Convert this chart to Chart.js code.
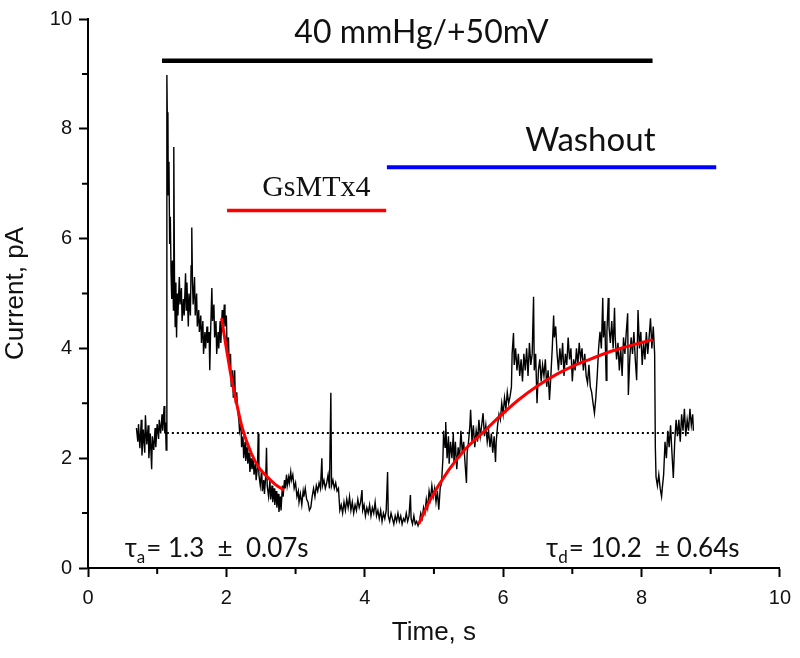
<!DOCTYPE html>
<html lang="en">
<head>
  <meta charset="UTF-8">
  <title>Current trace – GsMTx4 washout</title>
  <script src="https://cdn.jsdelivr.net/npm/chart.js"></script>
  <style>
    html, body { margin: 0; padding: 0; background: #fff; }
    #wrap { width: 800px; height: 658px; }
  </style>
</head>
<body>
  <div id="wrap"><canvas id="chart" width="800" height="658"></canvas></div>
  <script>
    // recorded current trace, [time s, current pA]
    const trace = [
      [0.70,2.55],[0.72,2.30],[0.73,2.62],[0.75,2.18],[0.77,2.70],[0.78,2.05],[0.80,2.52],[0.82,2.10],[0.83,2.78],[0.85,2.25],
      [0.87,2.60],[0.88,2.00],[0.90,2.45],[0.92,1.80],[0.93,2.40],[0.95,2.15],[0.97,2.55],[0.98,2.20],[1.00,2.62],[1.02,2.35],
      [1.03,2.70],[1.05,2.45],[1.07,2.80],[1.08,2.50],[1.10,2.95],[1.11,2.45],[1.12,2.65],[1.13,2.15],
      [1.14,8.98],[1.15,7.75],[1.155,8.30],[1.16,6.80],[1.17,7.40],[1.18,5.90],[1.19,6.40],[1.20,5.40],[1.21,4.90],[1.22,5.60],
      [1.235,4.70],[1.24,7.67],[1.25,5.30],[1.26,4.40],[1.27,5.20],[1.28,4.20],
      [1.29,5.00],[1.30,4.60],[1.32,5.30],[1.33,4.80],[1.35,5.10],[1.36,4.50],[1.38,4.90],[1.39,4.60],[1.41,5.37],[1.42,4.70],
      [1.43,5.20],[1.45,4.40],[1.46,5.00],[1.48,4.60],[1.49,5.50],[1.50,6.20],[1.51,5.20],[1.52,4.80],[1.54,5.30],[1.55,4.60],
      [1.57,5.00],[1.58,4.40],
      [1.60,4.70],[1.61,4.30],[1.63,4.60],[1.64,4.10],[1.66,4.50],[1.67,3.90],[1.69,4.30],[1.70,4.00],[1.72,4.40],[1.73,4.10],
      [1.75,4.30],[1.76,3.60],[1.77,4.20],[1.79,5.10],[1.80,4.50],[1.82,4.80],[1.83,4.20],[1.85,4.50],[1.86,3.90],[1.88,4.30],
      [1.89,4.00],[1.91,4.50],[1.92,4.10],[1.94,4.70],[1.95,4.30],[1.97,4.80],
      [1.98,4.40],[2.00,4.60],[2.01,4.00],[2.03,4.20],[2.04,3.70],[2.06,3.90],[2.07,3.30],[2.09,3.60],[2.10,3.10],[2.12,3.60],
      [2.13,3.00],[2.15,3.20],[2.16,2.90],[2.18,2.70],[2.19,2.50],[2.21,2.65],[2.22,2.20],[2.24,2.40],[2.25,2.00],[2.27,2.30],
      [2.28,1.95],[2.30,2.20],[2.31,1.90],[2.33,2.10],[2.34,1.75],[2.36,2.00],[2.37,1.80],[2.39,1.95],[2.40,1.70],[2.42,1.90],
      [2.43,1.60],[2.45,1.85],[2.46,2.45],[2.47,1.70],[2.49,1.50],[2.51,1.80],[2.52,1.40],[2.54,1.60],[2.55,1.35],[2.57,1.70],
      [2.58,2.19],[2.59,1.50],[2.61,1.30],[2.63,1.60],[2.64,1.25],[2.66,1.50],[2.67,1.20],[2.69,1.45],[2.70,1.15],[2.72,1.40],
      [2.73,1.10],[2.75,1.35],[2.76,1.02],[2.78,1.30],[2.79,1.05],[2.81,1.50],[2.82,1.30],
      [2.84,1.60],[2.85,1.45],[2.87,1.70],[2.88,1.50],[2.90,1.65],[2.91,1.55],[2.93,1.75],[2.94,1.60],[2.96,1.70],
      [2.98,1.45],[3.00,1.55],[3.02,1.30],[3.04,1.40],[3.05,1.20],[3.07,1.35],[3.09,1.15],[3.11,1.40],[3.12,1.30],[3.14,1.45],
      [3.16,1.25],[3.18,1.20],[3.20,1.05],[3.22,1.10],
      [3.24,1.30],[3.26,1.45],[3.28,1.30],[3.30,1.50],[3.32,1.40],[3.34,1.55],[3.36,1.45],[3.38,2.00],[3.39,1.50],[3.41,1.60],
      [3.43,1.45],[3.45,1.55],[3.47,1.70],[3.49,1.45],[3.51,3.19],[3.52,1.50],[3.54,1.60],[3.56,1.45],[3.58,1.55],[3.60,1.40],
      [3.62,1.45],
      [3.64,1.05],[3.66,1.15],[3.68,1.00],[3.70,1.20],[3.72,1.05],[3.74,1.25],[3.76,1.10],[3.78,1.30],[3.80,1.05],[3.82,1.20],
      [3.84,1.00],[3.86,1.15],[3.88,1.05],[3.90,1.25],[3.92,1.10],[3.94,1.20],[3.96,1.42],[3.97,1.05],[3.99,1.15],[4.01,0.95],
      [4.03,1.10],[4.05,1.00],[4.07,1.15],[4.09,0.95],[4.11,1.10],[4.13,1.00],[4.15,1.20],[4.17,0.95],[4.19,1.05],
      [4.21,0.90],[4.23,1.05],[4.25,0.85],[4.27,1.00],[4.29,0.90],[4.31,1.05],[4.33,1.75],[4.34,0.95],[4.36,0.85],[4.38,1.00],
      [4.40,0.90],[4.42,0.80],[4.44,0.95],[4.46,0.85],[4.48,1.00],[4.50,0.85],[4.52,0.95],[4.54,0.80],[4.56,0.90],[4.58,0.85],
      [4.60,1.00],[4.62,0.85],[4.64,0.95],[4.66,1.33],[4.67,0.90],[4.69,0.80],[4.71,0.95],[4.73,0.80],[4.75,0.85],[4.77,0.77],
      [4.79,0.85],[4.81,1.00],[4.83,0.90],[4.85,1.10],[4.87,1.00],[4.89,1.25],[4.91,1.10],
      [4.93,1.40],[4.95,1.25],[4.97,1.50],[4.99,1.30],[5.01,1.45],[5.03,1.20],[5.05,1.40],[5.07,1.06],[5.09,1.45],[5.11,1.55],
      [5.13,2.00],[5.14,2.50],[5.16,2.20],[5.17,2.66],[5.19,2.00],[5.21,2.40],[5.22,1.90],[5.24,2.30],
      [5.26,2.00],[5.28,2.45],[5.29,1.90],[5.31,2.30],[5.33,1.80],[5.35,2.20],[5.37,2.00],[5.39,2.50],[5.41,2.10],[5.43,2.30],
      [5.45,1.90],[5.47,1.55],[5.48,2.10],
      [5.50,2.30],[5.52,2.60],[5.53,2.88],[5.55,2.30],[5.57,2.60],[5.59,2.20],[5.61,2.50],[5.63,2.30],[5.65,2.70],[5.67,2.40],
      [5.69,2.60],[5.71,2.82],[5.73,2.40],
      [5.75,2.60],[5.77,2.30],[5.79,2.50],[5.81,2.20],[5.83,2.45],[5.85,2.10],[5.87,2.40],[5.89,1.93],[5.90,2.30],[5.92,2.60],
      [5.94,2.80],[5.96,2.70],[5.98,3.00],[6.00,2.80],[6.02,3.10],[6.04,2.90],[6.06,3.20],[6.08,3.00],[6.10,3.12],[6.12,3.30],
      [6.13,3.90],[6.15,4.28],[6.16,3.70],[6.18,4.00],[6.20,3.60],[6.22,3.90],
      [6.24,3.50],[6.26,3.80],[6.28,3.40],[6.30,3.90],[6.32,3.60],[6.34,4.00],[6.36,3.50],[6.38,4.10],[6.40,3.70],[6.42,3.90],
      [6.44,4.94],
      [6.45,3.60],[6.47,3.90],[6.49,3.00],[6.51,3.60],[6.53,3.80],[6.55,3.40],[6.57,3.70],[6.59,3.50],[6.61,3.80],[6.63,3.30],
      [6.65,3.60],[6.67,3.06],[6.69,3.50],
      [6.71,4.00],[6.73,4.60],[6.74,4.20],[6.76,4.40],[6.78,3.90],
      [6.80,3.60],[6.82,4.00],[6.84,3.70],[6.86,4.10],[6.88,3.50],[6.90,3.90],[6.92,3.70],[6.94,4.20],[6.96,3.80],[6.98,4.00],
      [7.00,3.40],[7.02,3.80],[7.04,3.60],[7.06,4.00],[7.08,3.70],[7.10,4.10],[7.12,3.80],[7.14,4.00],[7.16,3.60],[7.18,3.90],
      [7.20,3.50],[7.22,3.37],[7.24,3.70],[7.26,3.30],
      [7.28,3.20],[7.30,3.00],[7.32,2.82],[7.34,3.10],[7.36,3.50],
      [7.38,4.00],[7.40,4.30],[7.42,4.00],[7.44,4.92],[7.45,4.20],[7.47,4.50],[7.49,3.42],[7.50,4.30],[7.52,4.92],[7.53,4.40],
      [7.55,4.10],[7.57,4.50],[7.59,4.00],[7.61,4.74],[7.62,4.20],[7.64,3.80],
      [7.66,4.10],[7.68,3.60],[7.70,4.00],[7.72,3.50],[7.74,4.20],[7.76,3.90],[7.78,4.30],[7.80,4.64],[7.81,3.15],[7.83,3.80],
      [7.85,4.20],[7.87,3.90],[7.89,4.30],
      [7.91,3.80],[7.93,3.42],[7.95,4.70],[7.97,4.00],[7.99,4.30],[8.01,3.70],[8.03,4.10],[8.05,3.80],[8.07,4.30],[8.09,3.90],
      [8.11,4.20],[8.13,4.55],[8.15,4.00],[8.17,4.40],[8.19,3.90],
      [8.20,2.20],[8.21,1.66],[8.23,1.50],[8.25,1.70],[8.27,1.45],[8.29,1.30],[8.30,1.45],[8.32,1.70],
      [8.34,2.30],[8.36,2.00],[8.38,2.50],[8.40,2.20],[8.42,2.60],[8.44,2.10],[8.46,1.64],[8.48,2.30],[8.50,2.70],[8.52,2.40],
      [8.54,2.70],[8.56,2.30],[8.58,2.80],[8.60,2.50],[8.62,2.90],[8.64,2.40],[8.66,2.70],[8.68,2.50],[8.70,2.90],[8.72,2.60],
      [8.74,2.80],[8.75,2.50]
    ];

    // exponential fits
    const decayFit = [[1.93,4.55],[2.00,4.00],[2.07,3.48],[2.16,2.93],[2.23,2.55],[2.36,2.09],[2.47,1.83],[2.59,1.66],[2.71,1.52],[2.83,1.42]];
    const riseFit = [[4.78,0.80],[4.95,1.25],[5.21,1.78],[5.45,2.16],[5.71,2.47],[5.95,2.76],[6.22,3.06],[6.50,3.32],[6.79,3.54],
                     [7.05,3.70],[7.27,3.81],[7.52,3.93],[7.75,4.02],[7.95,4.09],[8.16,4.16]];
    const baseline = [[1.14,2.46],[8.72,2.46]];

    // protocol bars
    const pressureBar = [[1.07,9.24],[8.16,9.24]];
    const toxinBar = [[2.01,6.51],[4.31,6.51]];
    const washoutBar = [[4.32,7.30],[9.08,7.30]];

    const xTicks = [0, 2, 4, 6, 8, 10];
    const yTicks = [0, 2, 4, 6, 8, 10];

    const pts = arr => arr.map(([x, y]) => ({ x, y }));

    const labels = [
      { text: '40 mmHg/+50mV', x: 4.82, y: 9.56, font: '32px Lato' },
      { text: 'Washout', x: 7.26, y: 7.60, font: '33px Lato' },
      { text: 'GsMTx4', x: 3.30, y: 6.78, font: '30px "Liberation Serif"' }
    ];
    const taus = [
      { sub: 'a', rest: '= 1.3  \u00b1  0.07s', x: 0.53, y: 0.20 },
      { sub: 'd', rest: '= 10.2  \u00b1 0.64s', x: 6.62, y: 0.20 }
    ];

    const textPlugin = {
      id: 'texts',
      afterDatasetsDraw(chart) {
        const { ctx, scales: { x, y } } = chart;
        ctx.save();
        ctx.fillStyle = '#111';
        ctx.textBaseline = 'alphabetic';
        labels.forEach(l => {
          ctx.font = l.font;
          ctx.textAlign = 'center';
          ctx.fillText(l.text, x.getPixelForValue(l.x), y.getPixelForValue(l.y));
        });
        ctx.textAlign = 'left';
        taus.forEach(t => {
          let px = x.getPixelForValue(t.x);
          const py = y.getPixelForValue(t.y);
          ctx.font = '26px Lato';
          ctx.fillText('\u03c4', px, py);
          px += ctx.measureText('\u03c4').width;
          ctx.font = '17px Lato';
          ctx.fillText(t.sub, px, py + 6);
          px += ctx.measureText(t.sub).width + 1;
          ctx.font = '26px Lato';
          ctx.fillText(t.rest, px, py);
        });
        ctx.restore();
      }
    };

    // short minor ticks on odd values
    const minorTicks = {
      id: 'minorTicks',
      afterDraw(chart) {
        const { ctx, scales: { x, y }, chartArea: a } = chart;
        ctx.save();
        ctx.strokeStyle = '#000';
        ctx.lineWidth = 2;
        ctx.beginPath();
        for (let v = 1; v < 10; v += 2) {
          const px = x.getPixelForValue(v);
          ctx.moveTo(px, a.bottom); ctx.lineTo(px, a.bottom + 6);
          const py = y.getPixelForValue(v);
          ctx.moveTo(a.left, py); ctx.lineTo(a.left - 6, py);
        }
        ctx.stroke();
        ctx.restore();
      }
    };

    const line = (data, color, width, order, extra) => Object.assign({
      data: pts(data), borderColor: color, borderWidth: width, pointRadius: 0,
      showLine: true, fill: false, order
    }, extra || {});

    const tickFont = { family: '"Liberation Sans", Arial, sans-serif', size: 20 };
    const titleFont = { family: '"Liberation Sans", Arial, sans-serif', size: 26 };

    new Chart(document.getElementById('chart'), {
      type: 'scatter',
      data: {
        datasets: [
          line(trace, '#000', 1.4, 5),
          line(baseline, '#000', 2, 3, { borderDash: [2, 3] }),
          line(decayFit, '#ff0000', 3, 1, { cubicInterpolationMode: 'monotone' }),
          line(riseFit, '#ff0000', 3, 1, { cubicInterpolationMode: 'monotone' }),
          line(pressureBar, '#000', 4.5, 0),
          line(toxinBar, '#ff0000', 3.5, 0),
          line(washoutBar, '#0000ff', 4, 0)
        ]
      },
      options: {
        responsive: false,
        animation: false,
        layout: { padding: { left: 0, right: 17, top: 19, bottom: 0 } },
        plugins: { legend: { display: false }, tooltip: { enabled: false } },
        scales: {
          x: {
            type: 'linear', min: 0, max: 10,
            afterFit: s => { s.height = 90; },
            afterBuildTicks: s => { s.ticks = xTicks.map(v => ({ value: v })); },
            border: { color: '#000', width: 2 },
            grid: { drawOnChartArea: false, tickLength: 9, tickWidth: 2, tickColor: '#000' },
            ticks: { color: '#111', font: tickFont, padding: 9, autoSkip: false, maxRotation: 0 },
            title: { display: true, text: 'Time, s', color: '#111', font: titleFont, padding: { top: 0, bottom: 10 } }
          },
          y: {
            type: 'linear', min: 0, max: 10,
            afterFit: s => { s.width = 88; },
            afterBuildTicks: s => { s.ticks = yTicks.map(v => ({ value: v })); },
            border: { color: '#000', width: 2 },
            grid: { drawOnChartArea: false, tickLength: 9, tickWidth: 2, tickColor: '#000' },
            ticks: { color: '#111', font: tickFont, padding: 7, autoSkip: false },
            title: { display: true, text: 'Current, pA', color: '#111', font: titleFont, padding: { top: 0, bottom: 0 } }
          }
        }
      },
      plugins: [textPlugin, minorTicks]
    });
  </script>
</body>
</html>
